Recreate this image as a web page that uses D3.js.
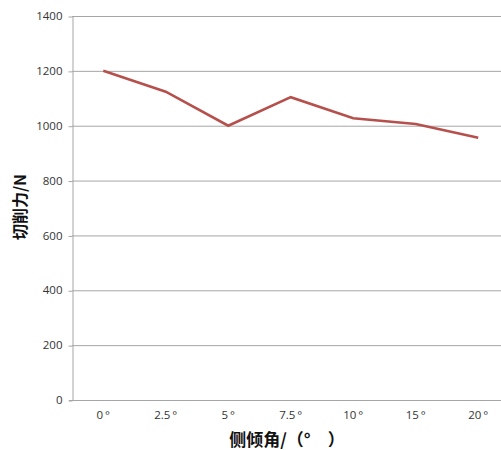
<!DOCTYPE html>
<html><head><meta charset="utf-8">
<script src="https://cdn.jsdelivr.net/npm/d3@7"></script>
<style>body{margin:0;background:#fff}svg{display:block}</style>
</head><body>
<svg id="c" width="501" height="450"></svg>
<script>
const categories = ["0°","2.5°","5°","7.5°","10°","15°","20°"];
const forceValues = [1200,1124,1000,1104,1027,1006,956];
const yTicks = [0,200,400,600,800,1000,1200,1400];
const xTitle = "侧倾角/（°\u2002\u2002）";
const yTitle = "切削力/N";

(function(){
const svg = d3.select("#c");
const mLeft = 72, mTop = 16, mBottom = 400, mRight = 509.5;
const x = d3.scaleBand().domain(categories).range([mLeft, mRight]);
const y = d3.scaleLinear().domain([0,1400]).range([mBottom, mTop]);

svg.append("g").selectAll("line").data(yTicks).join("line")
  .attr("x1", mLeft).attr("x2", 501)
  .attr("y1", d=>y(d)+0.5).attr("y2", d=>y(d)+0.5)
  .attr("stroke", "#a6a6a6").attr("stroke-width", 1);

const ya = svg.append("g").attr("transform", `translate(${mLeft+0.5},0)`)
  .call(d3.axisLeft(y).tickValues(yTicks).tickFormat(d3.format("d")).tickSize(4).tickSizeOuter(0).tickPadding(6));
ya.select(".domain").attr("stroke", "#a6a6a6");
ya.selectAll(".tick line").attr("stroke", "#a6a6a6").attr("transform","translate(0,0.5)");
ya.selectAll("text").attr("font-family","'Open Sans','DejaVu Sans',sans-serif").attr("font-size",11.5).attr("fill","#333");

const xa = svg.append("g").attr("transform", `translate(0,${mBottom+0.5})`)
  .call(d3.axisBottom(x).tickSize(0).tickPadding(10).tickFormat(d => d.replace("°", "\u2009°")));
xa.select(".domain").remove();
xa.selectAll("text").attr("font-family","'Open Sans','DejaVu Sans',sans-serif").attr("font-size",11.5).attr("fill","#333");

svg.append("line").attr("x1", mLeft-3).attr("x2", 501).attr("y1", mBottom+0.5).attr("y2", mBottom+0.5)
  .attr("stroke", "#a6a6a6");

const line = d3.line().x((d,i)=>x(categories[i])+x.bandwidth()/2).y(d=>y(d));
svg.append("path").datum(forceValues).attr("d", line)
  .attr("fill","none").attr("stroke","#b5504c").attr("stroke-width",2.6).attr("stroke-linejoin","miter");

svg.append("text").attr("x", 287).attr("y", 446).attr("text-anchor","middle")
  .attr("font-family","'Noto Sans CJK SC',sans-serif").attr("font-weight","bold").attr("font-size",17).attr("fill","#111")
  .text(xTitle);
svg.append("text").attr("transform","translate(26,207) rotate(-90)").attr("text-anchor","middle")
  .attr("font-family","'Noto Sans CJK SC',sans-serif").attr("font-weight","bold").attr("font-size",16).attr("fill","#111")
  .text(yTitle);
})();
</script>
</body></html>
